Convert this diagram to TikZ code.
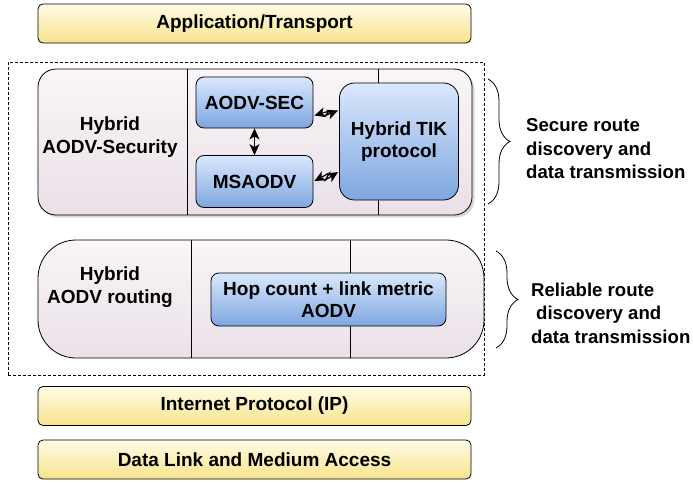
\documentclass[tikz,border=0pt]{standalone}
\usepackage{fontspec}
\setmainfont{Liberation Sans}
\usetikzlibrary{arrows.meta,decorations.pathreplacing,shadows,calc}
\definecolor{ytop}{HTML}{FFFCE6}
\definecolor{ybot}{HTML}{F7E38C}
\definecolor{btop}{HTML}{DAE8FC}
\definecolor{bbot}{HTML}{7EA6E0}
\definecolor{ptop}{HTML}{F9F5F8}
\definecolor{pbot}{HTML}{EAE1E8}
\begin{document}
\begin{tikzpicture}[x=1pt,y=-1pt,
  font=\fontsize{19}{22.5}\selectfont\bfseries,
  every node/.style={inner sep=0pt},
  layerbox/.style={draw=black, line width=0.8pt, rounded corners=5pt, top color=ytop, bottom color=ybot, minimum width=433pt, minimum height=39pt},
  bluebox/.style={draw=black, line width=0.8pt, rounded corners=8pt, top color=btop, bottom color=bbot, align=center},
  groupbox/.style={draw=black, line width=0.8pt, top color=ptop, bottom color=pbot},
  dbl/.style={<->, >={Stealth[length=11pt,width=10pt,inset=3pt]}, line width=1.2pt, sharp corners},
  bracestyle/.style={decorate, decoration={brace, amplitude=22pt}, line width=0.8pt},
  sidetext/.style={align=left, anchor=west, font=\fontsize{18.6}{23.5}\selectfont\bfseries}
]
\useasboundingbox (0,0) rectangle (693,482);

% protocol layers
\node[layerbox] (app) at (254.5,23.5) {Application/Transport};
\node[layerbox] (ip) at (254.5,406) {Internet Protocol (IP)};
\node[layerbox] (dl) at (254.5,459.5) {Data Link and Medium Access};

% dashed frame
\node[draw, dashed, dash pattern=on 3pt off 2pt, line width=0.7pt, minimum width=476pt, minimum height=313pt] (frame) at (246,218.5) {};

% security group
\node[groupbox, rounded corners=18pt, minimum width=434pt, minimum height=146pt,
      drop shadow={shadow xshift=2.5pt, shadow yshift=-2.5pt, fill=black!30}] (sec) at (255,142) {};
\draw[line width=0.8pt] ([xshift=150pt]sec.north west) -- ([xshift=150pt]sec.south west);
\draw[line width=0.8pt] ([xshift=341pt]sec.north west) -- ([xshift=341pt]sec.south west);
\node[align=center] (seclbl) at (110,137) {Hybrid\\AODV-Security};

\node[bluebox, minimum width=117pt, minimum height=51pt] (aodvsec) at (254.5,102.5) {AODV-SEC};
\node[bluebox, minimum width=117pt, minimum height=52pt] (msaodv) at (254.5,181.5) {MSAODV};
\node[bluebox, rounded corners=15pt, minimum width=119pt, minimum height=117pt] (tik) at (399,141.5) {Hybrid TIK\\protocol};

\draw[dbl] (aodvsec.south) -- (msaodv.north);
\draw[dbl] ($(aodvsec.east)+(1,13)$) -- ($(aodvsec.east)+(16,8.5)$) -- ($(aodvsec.east)+(12,13)$) -- ($(tik.west)+(-1,-31)$);
\draw[dbl] ($(msaodv.east)+(1,-0.5)$) -- ($(msaodv.east)+(16,-8.5)$) -- ($(msaodv.east)+(12,-1.5)$) -- ($(tik.west)+(-1,30.5)$);

% routing group
\node[groupbox, rounded corners=38pt, minimum width=446pt, minimum height=118pt] (rt) at (261,299) {};
\draw[line width=0.8pt] ([xshift=154pt]rt.north west) -- ([xshift=154pt]rt.south west);
\draw[line width=0.8pt] ([xshift=313pt]rt.north west) -- ([xshift=313pt]rt.south west);
\node[align=center] (rtlbl) at (110,287) {Hybrid\\AODV routing};
\node[bluebox, minimum width=235pt, minimum height=53pt] (hop) at (328.5,299.5) {Hop count + link metric\\AODV};

% braces
\coordinate (b1t) at (488,79);
\coordinate (b1b) at (488,204);
\coordinate (b2t) at (496,251);
\coordinate (b2b) at (496,348);
\draw[bracestyle] (b1t) -- (b1b);
\draw[bracestyle] (b2t) -- (b2b);
\node[sidetext] (t1) at (526,149) {Secure route\\discovery and\\data transmission};
\node[sidetext] (t2) at (531,313) {Reliable route\\\hspace*{5pt}discovery and\\data transmission};
\end{tikzpicture}
\end{document}
